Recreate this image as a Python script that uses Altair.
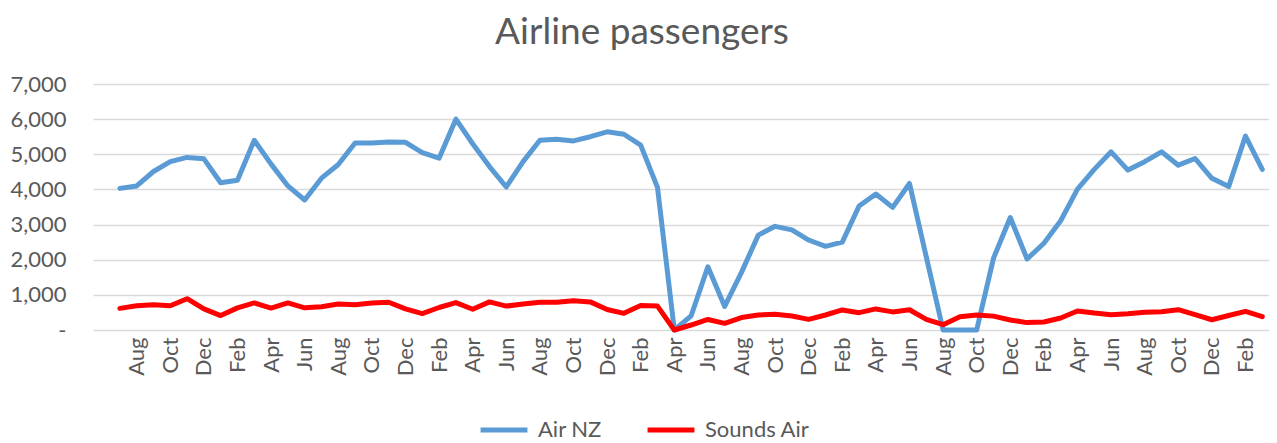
import altair as alt
import pandas as pd

# ---- data (monthly, Jul 2017 .. Mar 2023) ----
month_names = ["Jan", "Feb", "Mar", "Apr", "May", "Jun",
               "Jul", "Aug", "Sep", "Oct", "Nov", "Dec"]
n_points = 69
months = [month_names[(6 + i) % 12] for i in range(n_points)]

air_nz = [
    4030, 4100, 4510, 4790, 4910, 4870, 4190, 4260, 5400, 4720,
    4100, 3700, 4320, 4710, 5320, 5320, 5350, 5340, 5050, 4890,
    6000, 5300, 4650, 4070, 4790, 5400, 5430, 5380, 5500, 5640,
    5570, 5260, 4060, 0, 400, 1800, 670, 1640, 2700, 2950,
    2850, 2560, 2380, 2500, 3530, 3870, 3490, 4170, 2080, 0,
    0, 0, 2040, 3200, 2020, 2470, 3110, 4010, 4570, 5070,
    4550, 4790, 5070, 4690, 4880, 4315, 4080, 5520, 4570,
]

sounds_air = [
    615, 690, 720, 690, 890, 600, 410, 630, 770, 625,
    770, 630, 660, 740, 720, 770, 790, 600, 465, 640,
    780, 590, 800, 680, 740, 790, 790, 830, 800, 585,
    474, 700, 680, 0, 142, 300, 190, 355, 427, 445,
    400, 303, 427, 570, 493, 600, 515, 575, 303, 150,
    380, 430, 395, 285, 210, 228, 340, 540, 482, 436,
    463, 507, 517, 577, 436, 292, 412, 530, 380,
]

series_names = ["Air NZ", "Sounds Air"]
series_colors = ["#5B9BD5", "#FF0000"]
y_ticks = [0, 1000, 2000, 3000, 4000, 5000, 6000, 7000]
x_label_idx = list(range(1, n_points, 2))

rows = []
for i in range(n_points):
    rows.append({"idx": i, "month": months[i], "series": "Air NZ", "value": air_nz[i]})
for i in range(n_points):
    rows.append({"idx": i, "month": months[i], "series": "Sounds Air", "value": sounds_air[i]})
df = pd.DataFrame(rows)

month_expr = "[" + ",".join("'" + m + "'" for m in months) + "][datum.value]"

FONT = "Lato"
GREY = "#595959"

chart = (
    alt.Chart(df)
    .mark_line(strokeWidth=5, strokeJoin="round", strokeCap="round")
    .encode(
        x=alt.X(
            "idx:Q",
            scale=alt.Scale(domain=[-1.6, 68.4], nice=False, zero=False),
            axis=alt.Axis(
                title=None,
                values=x_label_idx,
                labelExpr=month_expr,
                labelAngle=270,
                labelFontSize=22,
                labelFont=FONT,
                labelColor=GREY,
                labelPadding=7,
                labelOverlap=False,
                labelFlush=False,
                ticks=False,
                domain=False,
                grid=False,
            ),
        ),
        y=alt.Y(
            "value:Q",
            scale=alt.Scale(domain=[0, 7000], nice=False),
            axis=alt.Axis(
                title=None,
                values=y_ticks,
                labelExpr="datum.value == 0 ? '-' : format(datum.value, ',')",
                labelFontSize=22,
                labelFont=FONT,
                labelColor=GREY,
                labelPadding=27,
                ticks=False,
                domain=False,
                grid=True,
                gridColor="#D9D9D9",
                gridWidth=1.5,
            ),
        ),
        color=alt.Color(
            "series:N",
            scale=alt.Scale(domain=series_names, range=series_colors),
            legend=alt.Legend(
                title=None,
                orient="none",
                direction="horizontal",
                legendX=385,
                legendY=320,
                symbolType="stroke",
                symbolSize=2200,
                symbolStrokeWidth=5,
                labelFontSize=22,
                labelFont=FONT,
                labelColor=GREY,
                labelOffset=8,
                columnPadding=35,
                padding=0,
            ),
        ),
        detail="series:N",
    )
    .properties(
        width=1176,
        height=246,
        title=alt.TitleParams(
            "Airline passengers",
            fontSize=37,
            font=FONT,
            fontWeight="normal",
            color=GREY,
            anchor="middle",
            dx=-39,
            offset=21,
        ),
        autosize=alt.AutoSizeParams(type="none"),
        padding={"left": 85, "top": 76, "right": 0, "bottom": 112},
    )
    .configure_view(stroke=None)
)

chart.save("out.html", embed_options={"renderer": "svg", "actions": False})
